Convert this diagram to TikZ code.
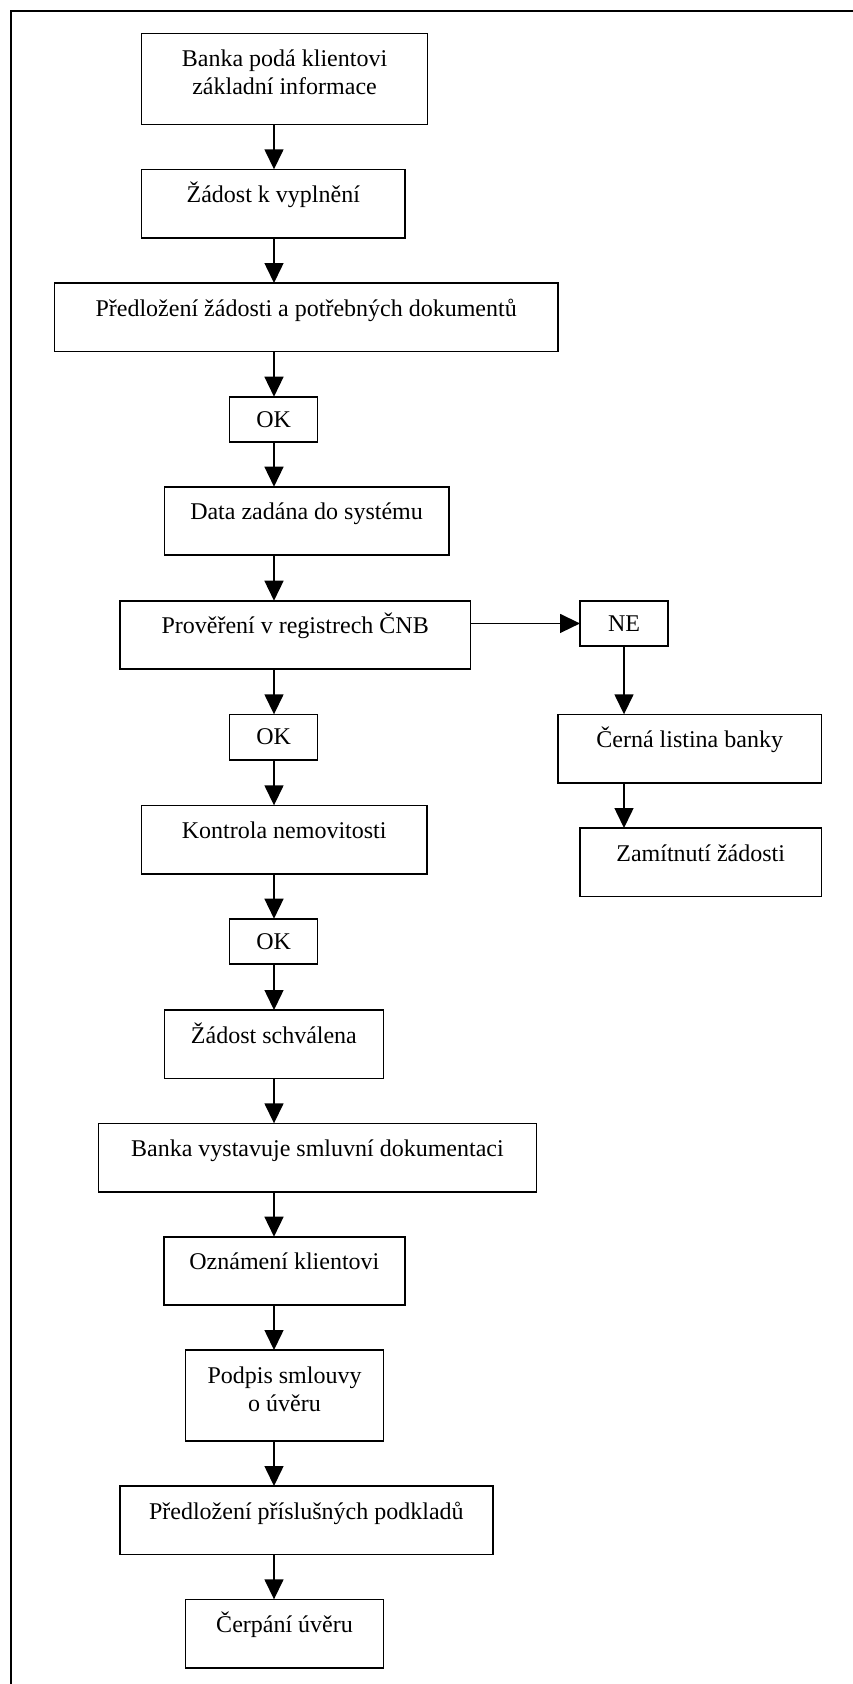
\documentclass[tikz,border=0pt]{standalone}
\usepackage{fontspec}
\setmainfont{Liberation Serif}
\usetikzlibrary{arrows.meta}
\begin{document}
\begin{tikzpicture}[x=1pt,y=-1pt,
  every node/.style={font=\fontsize{24}{28}\selectfont},
  stepbox/.style={draw, line width=1.6pt, inner xsep=0pt, inner ysep=0pt, outer sep=0pt,
    anchor=north west, align=center, text height=33pt, text depth=35.5pt},
  twobox/.style={stepbox, text height=61pt, text depth=30pt},
  okbox/.style={draw, line width=1.6pt, inner sep=0pt, outer sep=0pt, anchor=north west,
    minimum width=88pt, minimum height=45.5pt},
  flow/.style={line width=1.5pt, -{Triangle[width=19pt,length=20pt]}},
  frame/.style={line width=2pt}]
\useasboundingbox (0,0) rectangle (853,1684);

% open frame along the left and top edges
\draw[frame] (10.7,1684) -- (10.7,10.7) -- (853,10.7);

% main column
\node[twobox, minimum width=285.9pt] (b1) at (141.6,33.3) {Banka podá klientovi\\základní informace};
\node[stepbox, minimum width=263.3pt] (b2) at (141.6,169.3) {Žádost k vyplnění};
\node[stepbox, minimum width=503.7pt] (b3) at (54.3,283) {Předložení žádosti a potřebných dokumentů};
\node[okbox] (ok1) at (229.6,396.7) {OK};
\node[stepbox, minimum width=284.5pt] (b5) at (164.3,486.7) {Data zadána do systému};
\node[stepbox, minimum width=350.9pt] (b6) at (119.7,600.7) {Prověření v registrech ČNB};
\node[okbox] (ok2) at (229.6,714.3) {OK};
\node[stepbox, minimum width=285.6pt] (kn) at (141.4,805.3) {Kontrola nemovitosti};
\node[okbox] (ok3) at (229.6,918.7) {OK};
\node[stepbox, minimum width=219.2pt] (zs) at (164.3,1010) {Žádost schválena};
\node[stepbox, minimum width=438.1pt] (bv) at (98.4,1123.3) {Banka vystavuje smluvní dokumentaci};
\node[stepbox, minimum width=241.1pt] (oz) at (163.8,1236.7) {Oznámení klientovi};
\node[twobox, text depth=29.7pt, minimum width=197.9pt] (pd) at (185.6,1350) {Podpis smlouvy\\o úvěru};
\node[stepbox, minimum width=373.1pt] (pp) at (119.8,1486) {Předložení příslušných podkladů};
\node[stepbox, minimum width=197.9pt] (cu) at (185.6,1599.3) {Čerpání úvěru};

% rejection branch
\node[okbox] (ne) at (580,600.7) {NE};
\node[stepbox, minimum width=263.4pt] (cl) at (558,714.3) {Černá listina banky};
\node[stepbox, minimum width=241.4pt] (zam) at (580,828) {Zamítnutí žádosti};

% vertical axis of the main arrows
\coordinate (spine) at (274,0);

\foreach \a/\b in {b1/b2, b2/b3, b3/ok1, ok1/b5, b5/b6, b6/ok2, ok2/kn, kn/ok3,
                   ok3/zs, zs/bv, bv/oz, oz/pd, pd/pp, pp/cu}
  \draw[flow] (\a.south -| spine) -- (\b.north -| spine);

\draw[flow] (b6.east |- ne.west) -- (ne.west);
\draw[flow] (ne.south) -- (cl.north -| ne.south);
\draw[flow] (cl.south -| ne.south) -- (zam.north -| ne.south);
\end{tikzpicture}
\end{document}
